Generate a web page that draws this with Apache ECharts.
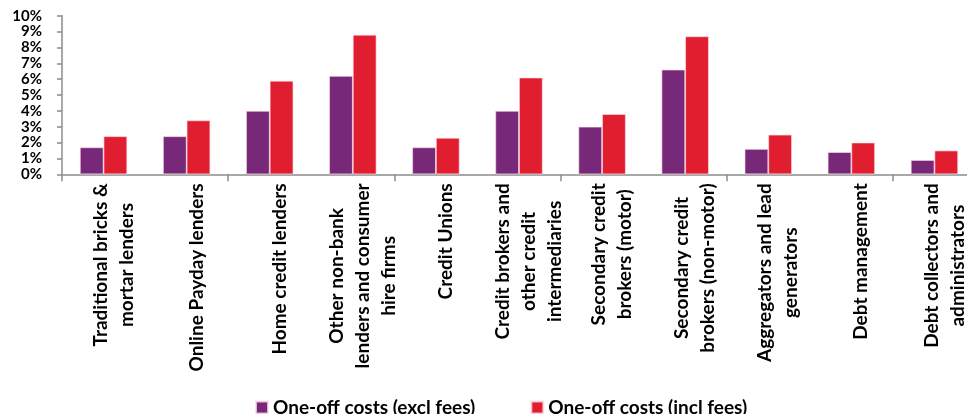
<!DOCTYPE html>
<html>
<head>
<meta charset="utf-8">
<script src="https://cdn.jsdelivr.net/npm/echarts@6/dist/echarts.min.js"></script>
<style>
  html, body { margin: 0; padding: 0; background: #ffffff; }
  #chart { width: 967px; height: 414px; }
</style>
</head>
<body>
<div id="chart"></div>
<script>
// Lender categories (line breaks as shown under the axis)
const categories = [
  'Traditional bricks &\nmortar lenders',
  'Online Payday lenders',
  'Home credit lenders',
  'Other non-bank\nlenders and consumer\nhire firms',
  'Credit Unions',
  'Credit brokers and\nother credit\nintermediaries',
  'Secondary credit\nbrokers (motor)',
  'Secondary credit\nbrokers (non-motor)',
  'Aggregators and lead\ngenerators',
  'Debt management',
  'Debt collectors and\nadministrators'
];

// One-off costs as a percentage
const exclFees = [1.7, 2.4, 4.0, 6.2, 1.7, 4.0, 3.0, 6.6, 1.6, 1.4, 0.9];
const inclFees = [2.4, 3.4, 5.9, 8.8, 2.3, 6.1, 3.8, 8.7, 2.5, 2.0, 1.5];

const seriesNames = ['One-off costs (excl fees)', 'One-off costs (incl fees)'];
const yTicks = { min: 0, max: 10, step: 1 };

const FONT = 'Lato';
const LABEL_SIZE = 19;
const LABEL_LINE = 26;
const axisGrey = '#8c8c8c';

const chart = echarts.init(document.getElementById('chart'), null, { renderer: 'canvas' });

chart.setOption({
  animation: false,
  backgroundColor: '#ffffff',
  textStyle: { fontFamily: FONT },
  legend: {
    left: 250,
    top: 393,
    itemWidth: 12,
    itemHeight: 12,
    itemGap: 55,
    icon: 'rect',
    textStyle: { fontFamily: FONT, fontWeight: 'bold', fontSize: 19, color: '#000000' },
    data: seriesNames
  },
  grid: {
    left: 62, right: -9, top: 15.7, bottom: 239.7,
    containLabel: false,
    outerBoundsMode: 'none'
  },
  xAxis: {
    type: 'category',
    data: categories,
    axisLine: { lineStyle: { color: axisGrey, width: 1.5 } },
    axisTick: { show: true, length: 7, lineStyle: { color: axisGrey, width: 1.5 } },
    // category names are set below as centred, rotated text blocks
    axisLabel: { show: false }
  },
  yAxis: {
    type: 'value',
    min: yTicks.min,
    max: yTicks.max,
    interval: yTicks.step,
    axisLine: { show: true, lineStyle: { color: axisGrey, width: 1.5 } },
    axisTick: { show: true, length: 5, lineStyle: { color: axisGrey, width: 1.5 } },
    splitLine: { show: false },
    axisLabel: {
      margin: 20,
      showMinLabel: true,
      showMaxLabel: true,
      hideOverlap: false,
      formatter: '{value}%',
      fontFamily: FONT,
      fontWeight: 'bold',
      fontSize: 15,
      lineHeight: 13,
      color: '#000000'
    }
  },
  series: [
    {
      name: seriesNames[0],
      type: 'bar',
      data: exclFees,
      barGap: '0%',
      barCategoryGap: '43%',
      itemStyle: { color: '#772878', borderColor: 'rgba(255,220,230,0.8)', borderWidth: 0.8 }
    },
    {
      name: seriesNames[1],
      type: 'bar',
      data: inclFees,
      barGap: '0%',
      barCategoryGap: '43%',
      itemStyle: { color: '#E01E30', borderColor: 'rgba(255,220,230,0.8)', borderWidth: 0.8 }
    }
  ]
});

// Category names: each block reads bottom-to-top, its lines centred on one another,
// and its longest line hangs from just under the axis.
const measureCtx = document.createElement('canvas').getContext('2d');
measureCtx.font = 'bold ' + LABEL_SIZE + 'px ' + FONT;
function blockWidth(text) {
  return Math.max.apply(null, text.split('\n').map(function (s) { return measureCtx.measureText(s).width; }));
}
const axisY = chart.convertToPixel({ yAxisIndex: 0 }, 0);
chart.setOption({
  graphic: categories.map(function (name, i) {
    const cx = chart.convertToPixel({ xAxisIndex: 0 }, i);
    return {
      type: 'text',
      silent: true,
      x: cx + 10,
      y: axisY + 9 + blockWidth(name) / 2,
      rotation: Math.PI / 2,
      style: {
        text: name,
        align: 'center',
        verticalAlign: 'middle',
        fontFamily: FONT,
        fontWeight: 'bold',
        fontSize: LABEL_SIZE,
        lineHeight: LABEL_LINE,
        fill: '#000000'
      }
    };
  })
});
</script>
</body>
</html>
